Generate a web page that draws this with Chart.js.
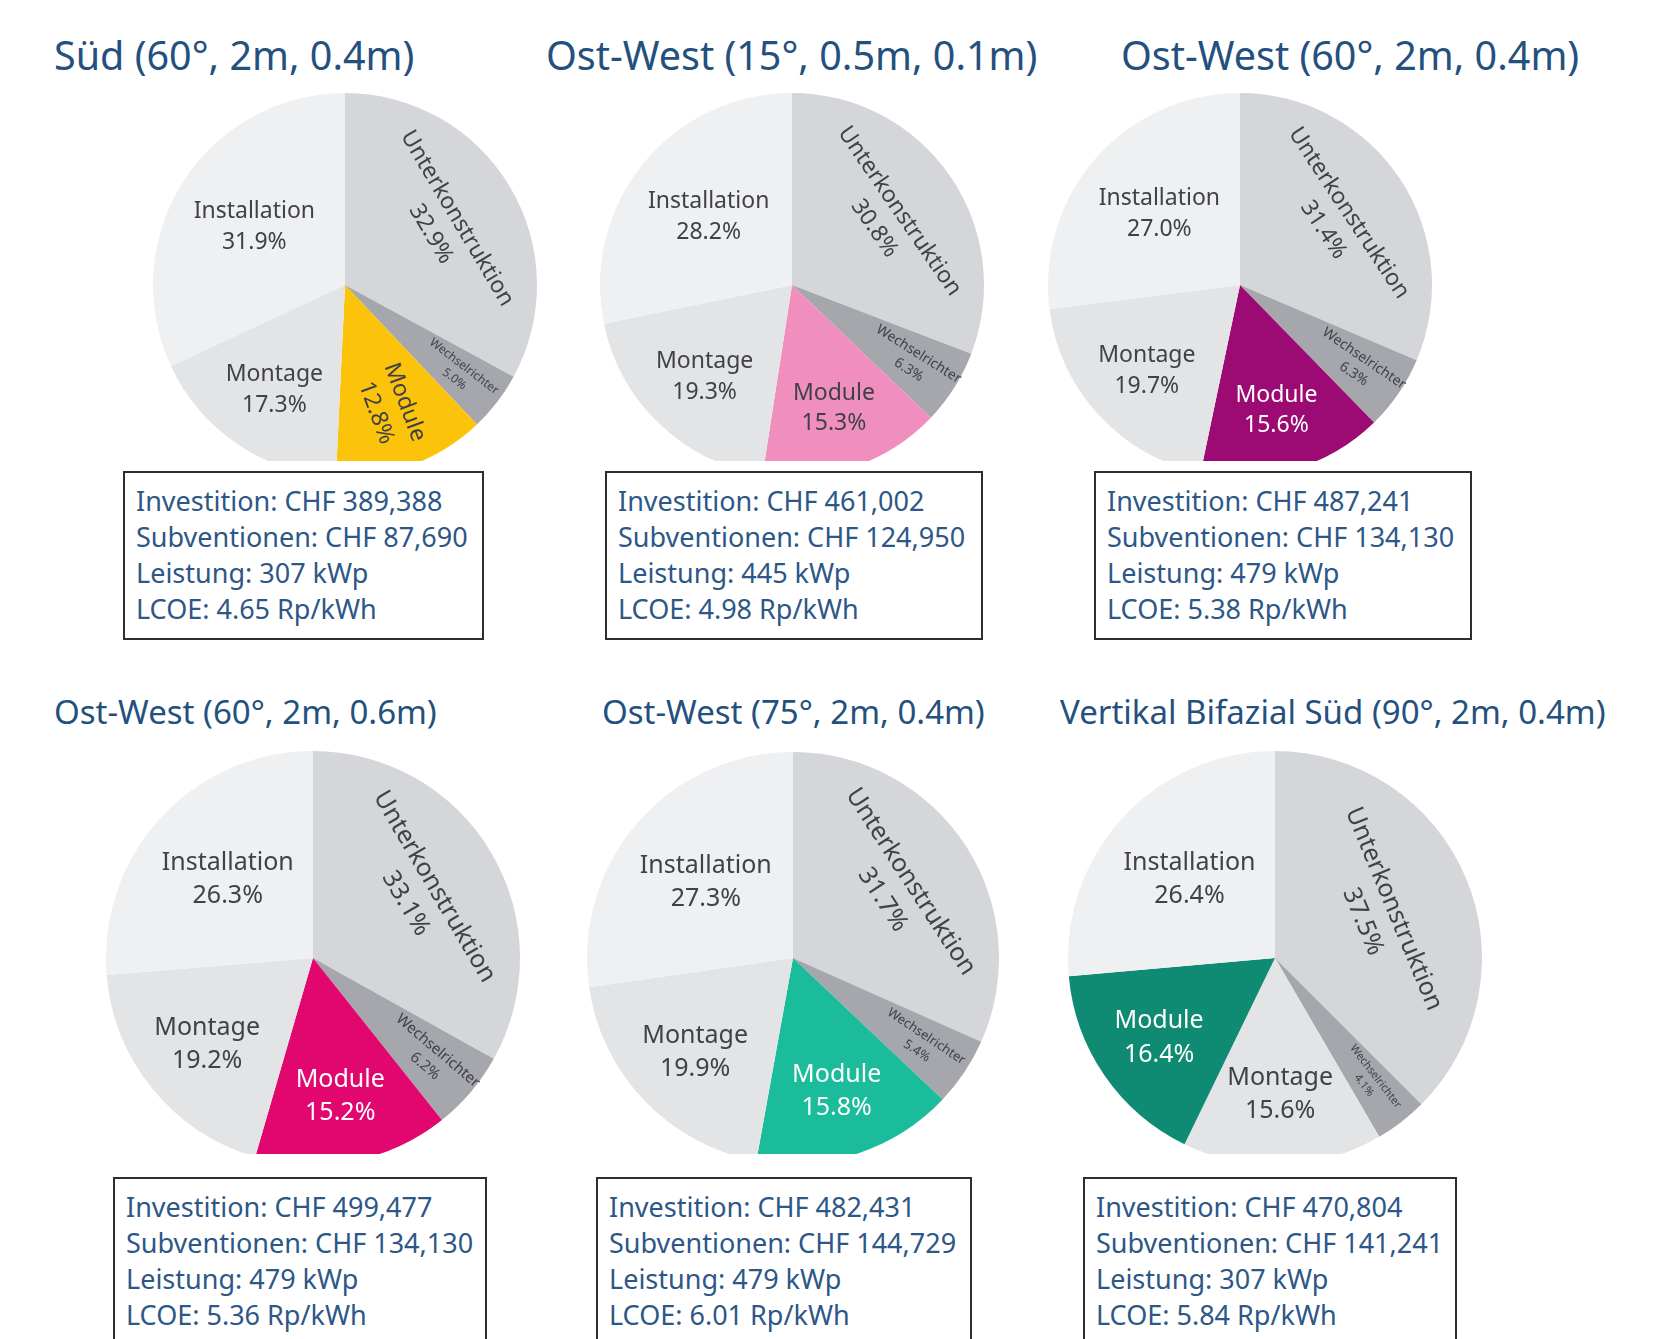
<!DOCTYPE html>
<html>
<head>
<meta charset="utf-8">
<title>Kostenanteile PV-Varianten</title>
<script src="https://cdn.jsdelivr.net/npm/chart.js@4.4.1/dist/chart.umd.min.js"></script>
<style>
    html, body { margin: 0; padding: 0; background: #fff; }
    body {
        width: 1679px; height: 1339px; position: relative; overflow: hidden;
        font-family: 'Noto Sans', 'Open Sans', sans-serif;
    }
    .title { position: absolute; color: #24507e; white-space: nowrap; line-height: 1; }
    .clip  { position: absolute; overflow: hidden; }
    .box {
        position: absolute; box-sizing: border-box; background: #fff;
        border: 2px solid #2e2e2e; color: #2d5787;
        font-size: 27px; line-height: 36px; padding: 10px 0 0 11px; white-space: nowrap;
    }
</style>
</head>
<body>
<script>
/* ── data ─────────────────────────────────────────── */
const categories         = ['Unterkonstruktion', 'Wechselrichter', 'Module', 'Montage', 'Installation'];
const categoriesVertikal = ['Unterkonstruktion', 'Wechselrichter', 'Montage', 'Module', 'Installation'];

const panelTitles = [
    'Süd (60°, 2m, 0.4m)',
    'Ost-West (15°, 0.5m, 0.1m)',
    'Ost-West (60°, 2m, 0.4m)',
    'Ost-West (60°, 2m, 0.6m)',
    'Ost-West (75°, 2m, 0.4m)',
    'Vertikal Bifazial Süd (90°, 2m, 0.4m)'
];

// shares in % (order as in categories / categoriesVertikal)
const sharesSued60     = [32.9, 5.0, 12.8, 17.3, 31.9];
const sharesOW15       = [30.8, 6.3, 15.3, 19.3, 28.2];
const sharesOW60       = [31.4, 6.3, 15.6, 19.7, 27.0];
const sharesOW60b      = [33.1, 6.2, 15.2, 19.2, 26.3];
const sharesOW75       = [31.7, 5.4, 15.8, 19.9, 27.3];
const sharesVertikal   = [37.5, 4.1, 15.6, 16.4, 26.4];

const investition  = ['389,388', '461,002', '487,241', '499,477', '482,431', '470,804'];
const subventionen = ['87,690', '124,950', '134,130', '134,130', '144,729', '141,241'];
const leistung     = [307, 445, 479, 479, 479, 307];
const lcoe         = ['4.65', '4.98', '5.38', '5.36', '6.01', '5.84'];

/* ── styles / layout ──────────────────────────────── */
const sliceColors = {
    Unterkonstruktion: '#d5d6d9',
    Wechselrichter:    '#a5a7ac',
    Montage:           '#e3e4e6',
    Installation:      '#eff0f1'
};
const moduleColors = ['#fcc30b', '#f08fbd', '#9c0b73', '#e2066f', '#1bbc9b', '#0f8b73'];
const moduleText   = ['#3f4048', '#3f4048', '#ffffff', '#ffffff', '#ffffff', '#ffffff'];
const labelColor   = '#404149';

const panels = [
    { tx: 54,   ty: 36,  ts: 39.5, cx: 345,  cy: 285, r: 192, clipY: 461,  bx: 123,  by: 471,  bw: 361, bh: 169, font: 23, wech: 12, modOrient: 'radial' },
    { tx: 546,  ty: 36,  ts: 39.5, cx: 792,  cy: 285, r: 192, clipY: 461,  bx: 605,  by: 471,  bw: 378, bh: 169, font: 23, wech: 14, modOrient: 'horizontal' },
    { tx: 1121, ty: 36,  ts: 39.5, cx: 1240, cy: 285, r: 192, clipY: 461,  bx: 1094, by: 471,  bw: 378, bh: 169, font: 23, wech: 14, modOrient: 'horizontal' },
    { tx: 54,   ty: 695, ts: 33, cx: 313,  cy: 958, r: 207, clipY: 1154, bx: 113,  by: 1177, bw: 374, bh: 200, font: 25, wech: 15, modOrient: 'horizontal' },
    { tx: 602,  ty: 695, ts: 33, cx: 793,  cy: 958, r: 206, clipY: 1154, bx: 596,  by: 1177, bw: 376, bh: 200, font: 25, wech: 13, modOrient: 'horizontal' },
    { tx: 1060, ty: 695, ts: 33, cx: 1275, cy: 958, r: 207, clipY: 1154, bx: 1083, by: 1177, bw: 374, bh: 200, font: 25, wech: 11, modOrient: 'horizontal' }
];

// radial position of labels as fraction of radius
const labelRadius = { Unterkonstruktion: 0.6, Wechselrichter: 0.75, Module: 0.68, Montage: 0.66, Installation: 0.56 };

/* ── label plugin (plotly-like inside labels) ─────── */
const pieLabels = {
    id: 'pieLabels',
    afterDatasetsDraw(chart) {
        const st = chart.options.plugins.pieLabels;
        const ctx = chart.ctx;
        const meta = chart.getDatasetMeta(0);
        const values = chart.data.datasets[0].data;
        meta.data.forEach((arc, i) => {
            const cat = chart.data.labels[i];
            const p = arc.getProps(['x', 'y', 'startAngle', 'endAngle', 'outerRadius'], true);
            const mid = (p.startAngle + p.endAngle) / 2;
            let f = labelRadius[cat];
            if (cat === 'Unterkonstruktion' && st.unterkRadius) f = st.unterkRadius;
            const px = p.x + Math.cos(mid) * p.outerRadius * f;
            const py = p.y + Math.sin(mid) * p.outerRadius * f;

            let orient = 'horizontal';
            if (cat === 'Unterkonstruktion') orient = 'tangential';
            if (cat === 'Wechselrichter') orient = 'radial';
            if (cat === 'Module') orient = st.modOrient;

            let rot = 0;
            if (orient === 'tangential') rot = mid + Math.PI / 2;
            if (orient === 'radial') rot = mid;
            while (rot > Math.PI / 2) rot -= Math.PI;
            while (rot < -Math.PI / 2) rot += Math.PI;

            const size = cat === 'Wechselrichter' ? st.wech : st.font;
            const lines = [cat, values[i].toFixed(1) + '%'];
            const lh = size * 1.33;

            ctx.save();
            ctx.translate(px, py);
            ctx.rotate(rot);
            ctx.font = `${size}px 'Noto Sans', 'Open Sans', sans-serif`;
            ctx.textAlign = 'center';
            ctx.textBaseline = 'middle';
            ctx.fillStyle = cat === 'Module' ? st.modText : labelColor;
            lines.forEach((t, k) => ctx.fillText(t, 0, (k - (lines.length - 1) / 2) * lh));
            ctx.restore();
        });
    }
};

/* ── build panels ─────────────────────────────────── */
const allShares = [sharesSued60, sharesOW15, sharesOW60, sharesOW60b, sharesOW75, sharesVertikal];

panels.forEach((pn, idx) => {
    const cats = idx === 5 ? categoriesVertikal : categories;

    const title = document.createElement('div');
    title.className = 'title';
    title.style.left = pn.tx + 'px';
    title.style.top = pn.ty + 'px';
    title.style.fontSize = pn.ts + 'px';
    title.textContent = panelTitles[idx];
    document.body.appendChild(title);

    const clip = document.createElement('div');
    clip.className = 'clip';
    clip.style.left = (pn.cx - pn.r) + 'px';
    clip.style.top = (pn.cy - pn.r) + 'px';
    clip.style.width = (2 * pn.r) + 'px';
    clip.style.height = (pn.clipY - (pn.cy - pn.r)) + 'px';
    const canvas = document.createElement('canvas');
    canvas.width = 2 * pn.r;
    canvas.height = 2 * pn.r;
    clip.appendChild(canvas);
    document.body.appendChild(clip);

    new Chart(canvas.getContext('2d'), {
        type: 'pie',
        data: {
            labels: cats,
            datasets: [{
                data: allShares[idx],
                backgroundColor: cats.map(c => c === 'Module' ? moduleColors[idx] : sliceColors[c]),
                borderWidth: 0
            }]
        },
        options: {
            responsive: false, animation: false,
            layout: { padding: 0 },
            events: [],
            plugins: {
                legend: { display: false },
                tooltip: { enabled: false },
                pieLabels: {
                    font: pn.font, wech: pn.wech, modOrient: pn.modOrient, modText: moduleText[idx],
                    unterkRadius: idx === 5 ? 0.54 : null
                }
            }
        },
        plugins: [pieLabels]
    });

    const box = document.createElement('div');
    box.className = 'box';
    box.style.left = pn.bx + 'px';
    box.style.top = pn.by + 'px';
    box.style.width = pn.bw + 'px';
    box.style.height = pn.bh + 'px';
    box.innerHTML =
        `Investition: CHF ${investition[idx]}<br>` +
        `Subventionen: CHF ${subventionen[idx]}<br>` +
        `Leistung: ${leistung[idx]} kWp<br>` +
        `LCOE: ${lcoe[idx]} Rp/kWh`;
    document.body.appendChild(box);
});
</script>
</body>
</html>
